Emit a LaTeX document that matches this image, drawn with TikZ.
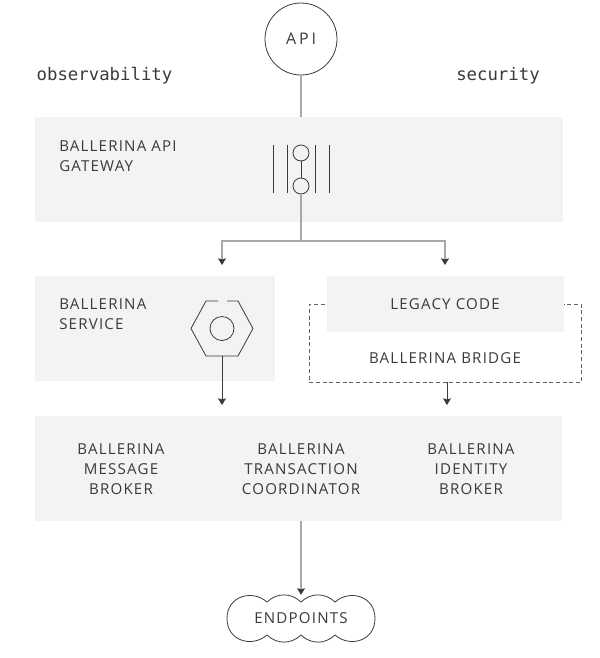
\documentclass[tikz,border=0pt]{standalone}
\usepackage{fontspec}
\setmainfont[LetterSpace=8]{Open Sans}
\setmonofont{DejaVu Sans Mono}
\usetikzlibrary{arrows.meta, shapes.geometric}
\definecolor{panel}{HTML}{F3F3F3}
\definecolor{ink}{HTML}{3A3A3A}
\definecolor{wire}{HTML}{A8A8A8}
\tikzstyle{panelbox} = [rectangle, anchor=north west, inner sep=0pt, fill=panel]
\tikzstyle{label} = [text=ink, font=\fontsize{11.3}{15}\selectfont, align=center, inner sep=0pt]
\tikzstyle{leftlabel} = [label, align=left, anchor=west]
\tikzstyle{aspect} = [text=ink, font=\ttfamily\fontsize{13}{15}\selectfont, inner sep=0pt]
\tikzstyle{glyph} = [draw=ink, line width=0.6pt, circle, inner sep=0pt, fill=panel]
\tikzstyle{arrow} = [draw=ink, line width=0.6pt, -{Stealth[length=5pt,width=6pt,inset=0.8pt]}]
\tikzstyle{greyarrow} = [draw=wire, line width=0.8pt, -{Stealth[length=5pt,width=6pt,inset=0.8pt,color=ink]}]
\tikzstyle{wireline} = [draw=wire, line width=0.8pt]

\begin{document}
\begin{tikzpicture}[x=0.75pt, y=-0.75pt]
    \useasboundingbox (0,0) rectangle (600,658);

    % Panels
    \node (gateway) [panelbox, minimum width=396pt, minimum height=78.75pt] at (35,117) {};
    \node (service) [panelbox, minimum width=180pt, minimum height=78.75pt] at (35,276) {};
    \node (brokers) [panelbox, minimum width=395.25pt, minimum height=78.75pt] at (35,416) {};

    % Bridge behind the legacy panel
    \node (bridge) [anchor=north west, inner sep=0pt, minimum width=204pt, minimum height=58.5pt, draw=ink!80, line width=0.6pt, dash pattern=on 3pt off 2pt] at (309,304) {};
    \node (legacy) [panelbox, minimum width=177.75pt, minimum height=42pt] at (327,276) {};

    % API and side labels
    \node (api) [circle, draw=ink, line width=0.6pt, minimum size=54pt, inner sep=0pt, label] at (301,39) {\fontsize{12}{15}\selectfont\addfontfeature{LetterSpace=18}API};
    \node (observability) [aspect] at (104.5,76) {observability};
    \node (security) [aspect] at (498,76) {security};

    % Panel texts
    \node (gatewaytext) [leftlabel] at (59,156.5) {BALLERINA API\\GATEWAY};
    \node (servicetext) [leftlabel] at (59,314.5) {BALLERINA\\SERVICE};
    \node (legacytext) [label] at (445,304) {LEGACY CODE};
    \node (bridgetext) [label] at (445,358) {BALLERINA BRIDGE};
    \node (messagetext) [label] at (121,469.5) {BALLERINA\\MESSAGE\\BROKER};
    \node (transactiontext) [label] at (301,469.5) {BALLERINA\\TRANSACTION\\COORDINATOR};
    \node (identitytext) [label] at (471,469.5) {BALLERINA\\IDENTITY\\BROKER};

    % Gateway glyph
    \draw [ink, line width=0.6pt] (273,145) -- (273,193);
    \draw [ink, line width=0.6pt] (287,145) -- (287,193);
    \draw [ink, line width=0.6pt] (315,145) -- (315,193);
    \draw [ink, line width=0.6pt] (329,145) -- (329,193);
    \node (portin) [glyph, minimum size=12pt] at (301,153) {};
    \node (portout) [glyph, minimum size=12pt] at (301,186) {};

    % Service glyph
    \node (core) [glyph, minimum size=18pt] at (222,328.5) {};
    \coordinate (hexbottom) at (222,356);
    \draw [ink, line width=0.6pt] (218,301) -- (206,301) -- (191,328.5) -- (206,356) -- (238,356) -- (253,328.5) -- (238,301) -- (227,301);

    % Endpoints cloud
    \node (endpoints) [label, minimum width=111pt, minimum height=35pt] at (301,618.5) {ENDPOINTS};
    \draw [ink, line width=0.6pt] (267,602)
        .. controls (277,592.5) and (291,592.5) .. (301,602)
        .. controls (311,592.5) and (325,592.5) .. (335,602)
        .. controls (350,589) and (375,596) .. (375,618.5)
        .. controls (375,641) and (350,648) .. (335,635)
        .. controls (325,644.5) and (311,644.5) .. (301,635)
        .. controls (291,644.5) and (277,644.5) .. (267,635)
        .. controls (252,648) and (227,641) .. (227,618.5)
        .. controls (227,596) and (252,589) .. (267,602) -- cycle;

    % Arrows
    \coordinate (branch) at (301,241);
    \coordinate (leftdrop) at (222,241);
    \coordinate (rightdrop) at (445,241);
    \coordinate (servicein) at (222,265);
    \coordinate (legacyin) at (445,265);
    \coordinate (brokerleft) at (222,405);
    \coordinate (brokerright) at (447,405);
    \coordinate (bridgeout) at (447,382);
    \coordinate (brokerout) at (301,521);
    \draw [wireline] (api) -- (301,117);
    \draw [ink, line width=0.6pt] (portin) -- (portout);
    \draw [wireline] (portout) -- (branch);
    \draw [greyarrow] (branch) -- (leftdrop) -- (servicein);
    \draw [greyarrow] (branch) -- (rightdrop) -- (legacyin);
    \draw [arrow] (hexbottom) -- (brokerleft);
    \draw [arrow] (bridgeout) -- (brokerright);
    \draw [greyarrow] (brokerout) -- (endpoints.north);
\end{tikzpicture}
\end{document}
